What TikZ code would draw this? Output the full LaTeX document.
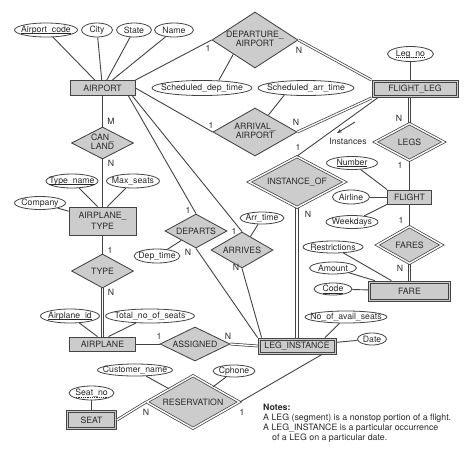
\documentclass[tikz,border=0pt]{standalone}
\usepackage{fontspec}
\setmainfont{TeX Gyre Heros}
\usetikzlibrary{shapes.geometric,arrows.meta}
\definecolor{lc}{HTML}{444444}
\definecolor{ef}{HTML}{CCCCCC}
\definecolor{tc}{HTML}{2A2A2A}
\newcommand\lblfont{\fontsize{8.7}{11}\selectfont}
\newcommand\mkb[1]{\makebox[0pt]{#1}}
\newcommand\twol[2]{\makebox[0pt]{\begin{tabular}{@{}c@{}}#1\\[-1.5pt]#2\end{tabular}}}
\newcommand\myul[1]{\setbox0\hbox{#1}\leavevmode\rlap{\raisebox{-1.6pt}{\vrule width \wd0 height 0.5pt depth 0pt}}\box0}
\newcommand\mydul[1]{\setbox0\hbox{#1}\leavevmode\rlap{\raisebox{-1.6pt}{\hbox to \wd0{\xleaders\hbox to 1.8pt{\hss\vrule width 0.9pt height 0.5pt depth 0pt\hss}\hfill}}}\box0}
\begin{document}
\begin{tikzpicture}[x=1pt,y=-1pt,
  ent/.style={draw=lc, fill=ef, line width=0.85pt, font=\lblfont, text=tc, inner sep=0pt, align=center},
  inner/.style={draw=lc, line width=0.75pt},
  rel/.style={diamond, aspect=2, draw=lc, fill=ef, line width=0.85pt, font=\lblfont, text=tc, inner sep=0pt},
  wrel/.style={rel, line width=0.75pt, double=white, double distance=1.4pt},
  attr/.style={ellipse, draw=lc, fill=white, line width=0.8pt, font=\lblfont, text=tc, inner sep=0pt},
  card/.style={font=\lblfont, text=tc, inner sep=0pt},
  ln/.style={draw=lc, line width=0.9pt},
  dbl/.style={draw=lc, line width=0.75pt, double=white, double distance=1.3pt}]
\fill[white] (0,0) rectangle (474,466);
\useasboundingbox (0,0) rectangle (474,466);

% ---------- entities
\node[ent, minimum width=65pt, minimum height=15pt] (airport) at (102.5,88) {AIRPORT};
\node[ent, minimum width=86pt, minimum height=17pt] (fleg) at (415,89) {FLIGHT\_LEG};
\node[ent, minimum width=44pt, minimum height=14pt] (flight) at (409.5,197) {FLIGHT};
\node[ent, minimum width=82pt, minimum height=20pt] (fare) at (409.5,291) {FARE};
\node[ent, minimum width=67pt, minimum height=28pt] (atype) at (102.5,221) {AIRPLANE\_\\TYPE};
\node[ent, minimum width=66pt, minimum height=14pt] (airplane) at (102.5,344) {AIRPLANE};
\node[ent, minimum width=78pt, minimum height=16pt] (linst) at (297,346) {LEG\_INSTANCE};
\node[ent, minimum width=50pt, minimum height=19pt] (seat) at (91.5,420) {SEAT};
% inner borders of the weak entities
\foreach \w in {fleg,fare,linst,seat}
  \draw[inner] ([xshift=2.4pt,yshift=-2.4pt]\w.north west) rectangle ([xshift=-2.4pt,yshift=2.4pt]\w.south east);

% ---------- relationships
\node[rel, minimum width=86pt, minimum height=56pt] (dep) at (255,40) {\twol{DEPARTURE\_}{AIRPORT}};
\node[rel, minimum width=84pt, minimum height=48pt] (arr) at (255,132) {\twol{ARRIVAL\_}{AIRPORT}};
\node[rel, minimum width=62pt, minimum height=32pt] (canland) at (102.5,143) {\twol{CAN\_}{LAND}};
\node[rel, minimum width=62pt, minimum height=34pt] (type) at (102.5,271) {\mkb{TYPE}};
\node[rel, minimum width=62pt, minimum height=34pt] (departs) at (196,231) {\mkb{DEPARTS}};
\node[rel, minimum width=62pt, minimum height=36pt] (arrives) at (242,250) {\mkb{ARRIVES}};
\node[wrel, minimum width=96pt, minimum height=51pt] (inst) at (297,182) {\mkb{INSTANCE\_OF}};
\node[wrel, minimum width=69pt, minimum height=37pt] (legs) at (409.5,142) {\mkb{LEGS}};
\node[wrel, minimum width=65pt, minimum height=37pt] (fares) at (409.5,245) {\mkb{FARES}};
\node[rel, minimum width=70pt, minimum height=34pt] (assigned) at (195,344) {\mkb{ASSIGNED}};
\node[wrel, minimum width=93pt, minimum height=53pt] (resv) at (193,402) {\mkb{RESERVATION}};

% ---------- attributes
\node[attr, minimum width=63pt, minimum height=14pt] (acode) at (46,30) {\mkb{\myul{Airport\_code}}};
\node[attr, minimum width=31pt, minimum height=14pt] (city) at (97,30) {\mkb{City}};
\node[attr, minimum width=35pt, minimum height=14pt] (state) at (134,30) {\mkb{State}};
\node[attr, minimum width=39pt, minimum height=14pt] (name) at (174,30) {\mkb{Name}};
\node[attr, minimum width=100pt, minimum height=15pt] (sdt) at (202,88) {\mkb{Scheduled\_dep\_time}};
\node[attr, minimum width=96pt, minimum height=15pt] (sat) at (306,88) {\mkb{Scheduled\_arr\_time}};
\node[attr, minimum width=46pt, minimum height=15pt] (legno) at (410.5,54) {\mkb{\mydul{Leg\_no}}};
\node[attr, minimum width=51pt, minimum height=13pt] (number) at (352,163) {\mkb{\myul{Number}}};
\node[attr, minimum width=37pt, minimum height=14pt] (airline) at (351,197) {\mkb{Airline}};
\node[attr, minimum width=52pt, minimum height=13pt] (weekdays) at (352,222) {\mkb{Weekdays}};
\node[attr, minimum width=52pt, minimum height=14pt] (tname) at (72,181) {\mkb{\myul{Type\_name}}};
\node[attr, minimum width=53pt, minimum height=14pt] (maxseats) at (133,181) {\mkb{Max\_seats}};
\node[attr, minimum width=51pt, minimum height=13pt] (company) at (40,203) {\mkb{Company}};
\node[attr, minimum width=46pt, minimum height=14pt] (dept) at (157,256) {\mkb{Dep\_time}};
\node[attr, minimum width=44pt, minimum height=12pt] (arrt) at (262,218) {\mkb{Arr\_time}};
\node[attr, minimum width=59pt, minimum height=14pt] (aid) at (70,316) {\mkb{\myul{Airplane\_id}}};
\node[attr, minimum width=89pt, minimum height=14pt] (totseats) at (150,316) {\mkb{Total\_no\_of\_seats}};
\node[attr, minimum width=60pt, minimum height=12pt] (restr) at (333,247) {\mkb{Restrictions}};
\node[attr, minimum width=47pt, minimum height=12pt] (amount) at (333,268) {\mkb{Amount}};
\node[attr, minimum width=38pt, minimum height=12pt] (code) at (333,289) {\mkb{\myul{Code}}};
\node[attr, minimum width=82pt, minimum height=12pt] (noavail) at (346,317) {\mkb{No\_of\_avail\_seats}};
\node[attr, minimum width=29pt, minimum height=12pt] (date) at (372,339) {\mkb{Date}};
\node[attr, minimum width=75pt, minimum height=12pt] (custname) at (135,370) {\mkb{Customer\_name}};
\node[attr, minimum width=42pt, minimum height=12pt] (cphone) at (234,371) {\mkb{Cphone}};
\node[attr, minimum width=45pt, minimum height=14pt] (seatno) at (91.5,393) {\mkb{\mydul{Seat\_no}}};

% ---------- attribute links
\draw[ln] (acode) -- (airport);
\draw[ln] (city) -- (airport);
\draw[ln] (state) -- (airport);
\draw[ln] (name) -- (airport);
\draw[ln] (sdt.24) -- (dep.south west);
\draw[ln] (sat.198) -- (arr);
\draw[ln] (legno) -- (legno |- fleg.north);
\draw[ln] (number) -- (flight.north west);
\draw[ln] (airline) -- (flight);
\draw[ln] (weekdays) -- (flight.south west);
\draw[ln] (tname) -- ([xshift=-5pt]atype.north);
\draw[ln] (maxseats) -- ([xshift=5pt]atype.north);
\draw[ln] (company) -- (atype);
\draw[ln] (dept) -- (departs);
\draw[ln] (arrt) -- (arrives);
\draw[ln] (aid) -- ([xshift=-5pt]airplane.north);
\draw[ln] (totseats) -- ([xshift=6pt]airplane.north);
\draw[ln] (restr) -- (fare);
\draw[ln] (amount) -- (fare);
\draw[ln] (code) -- (fare);
\draw[ln] (noavail) -- ([xshift=28pt]linst.north);
\draw[ln] (date) -- (linst);
\draw[ln] (custname) -- (resv);
\draw[ln] (cphone) -- (resv);
\draw[ln] (seatno) -- (seat);

% ---------- relationship links
\draw[ln] (airport.north east) -- (dep.west);
\draw[dbl] (dep.east) -- (fleg.north west);
\draw[ln] (airport.east) -- (arr.west);
\draw[dbl] (arr.east) -- (fleg.south west);
\draw[ln] ([xshift=6pt]fleg.south west) -- (inst.north);
\draw[ln] (legs.south) -- (flight.north);
\draw[ln] (flight.south) -- (fares.north);
\draw[ln] (airport.south) -- (canland.north);
\draw[ln] (canland.south) -- (atype.north);
\draw[ln] (atype.south) -- (type.north);
% vertical double lines (two parallel strokes)
\foreach \s in {-1.3pt,1.3pt} {
  \draw[ln, line width=0.75pt] ([xshift=\s]inst.south) -- ([xshift=\s]linst.north);
  \draw[ln, line width=0.75pt] ([xshift=\s]legs.north |- fleg.south) -- ([xshift=\s]legs.north);
  \draw[ln, line width=0.75pt] ([xshift=\s]fares.south) -- ([xshift=\s]fare.north);
  \draw[ln, line width=0.75pt] ([xshift=\s]type.south) -- ([xshift=\s]airplane.north);
}
\draw[ln] ([xshift=-7pt]airport.south east) -- (departs.north);
\draw[ln] ([xshift=-3pt]airport.south east) -- (arrives.north);
\draw[ln] (departs.south) -- (linst.north west);
\draw[ln] (arrives.south) -- ([xshift=4pt]linst.north west);
\draw[ln] (airplane.east) -- (assigned.west);
\draw[dbl] (assigned.east) -- (linst.west);
\draw[ln] ([xshift=25pt]linst.south) -- (resv.east);
\draw[dbl] (resv.west) -- (seat.east);

% ---------- instances arrow
\coordinate (ia) at (355,122);
\coordinate (ib) at (337,133);
\draw[ln, -{Stealth[length=5pt,width=4pt]}] (ia) -- (ib);
\node[card] (instlbl) at (348,141) {Instances};

% ---------- cardinalities
\node[card] (c1) at (208,48) {1};
\node[card] (c2) at (299,50) {N};
\node[card] (c3) at (211,125) {1};
\node[card] (c4) at (296,122) {N};
\node[card] (c5) at (298,147) {1};
\node[card] (c6) at (308,214) {N};
\node[card] (c7) at (399,118) {N};
\node[card] (c8) at (400,165) {1};
\node[card] (c9) at (401,220) {1};
\node[card] (c10) at (400,268) {N};
\node[card] (c11) at (111,121) {M};
\node[card] (c12) at (111,163) {N};
\node[card] (c13) at (110,250) {1};
\node[card] (c14) at (111,292) {N};
\node[card] (c15) at (188,210) {1};
\node[card] (c16) at (188,252) {N};
\node[card] (c17) at (234,231) {1};
\node[card] (c18) at (236,267) {N};
\node[card] (c19) at (159,336) {1};
\node[card] (c20) at (228,336) {N};
\node[card] (c21) at (242,412) {1};
\node[card] (c22) at (146,412) {N};

% ---------- notes
\node[anchor=north west, inner sep=0pt, align=left, font=\fontsize{8.8}{9.8}\selectfont, text=tc] (notes) at (263,404)
  {\textbf{Notes:}\\A LEG (segment) is a nonstop portion of a flight.\\A LEG\_INSTANCE is a particular occurrence\\\hspace*{9pt}of a LEG on a particular date.};
\end{tikzpicture}
\end{document}
